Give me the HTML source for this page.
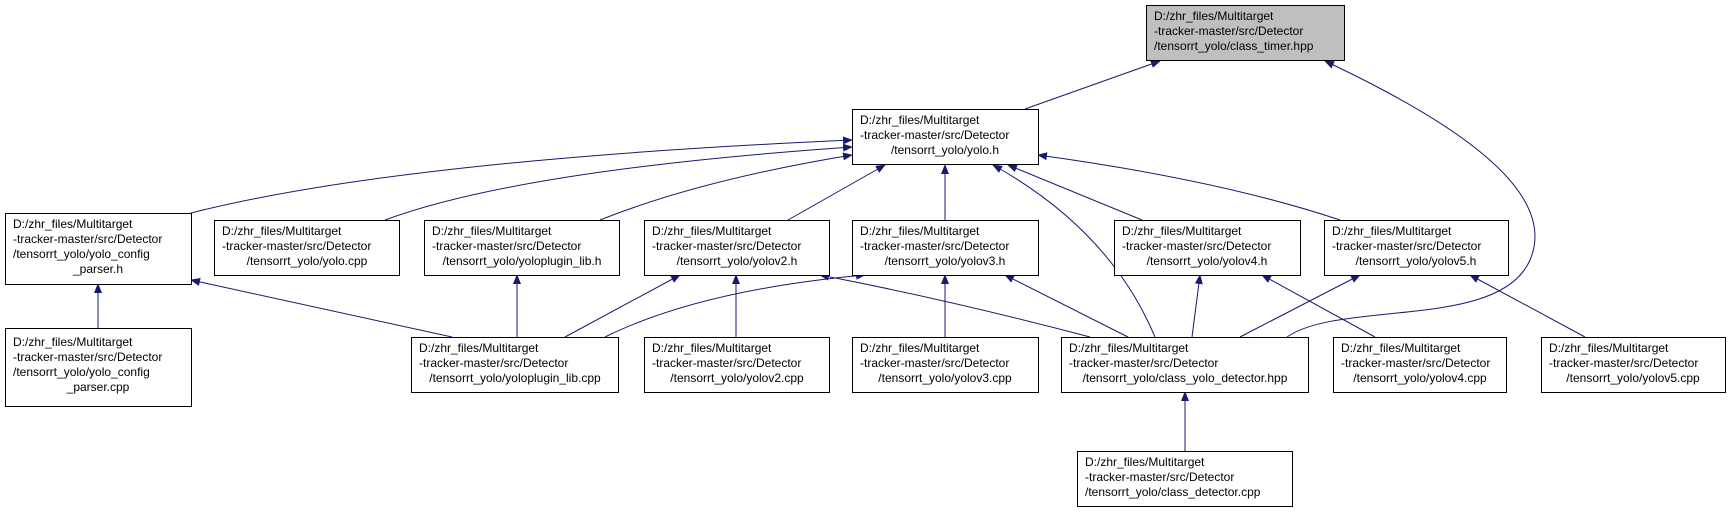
<!DOCTYPE html>
<html><head><meta charset="utf-8"><style>
html,body{margin:0;padding:0;background:#fff;}
svg{display:block;}
text{font-family:"Liberation Sans",Arial,sans-serif;font-size:12px;fill:#000;}
</style></head><body>
<svg width="1733" height="512" xmlns="http://www.w3.org/2000/svg">
<defs><marker id="a" markerWidth="10" markerHeight="8" refX="9" refY="4" orient="auto" markerUnits="userSpaceOnUse"><path d="M0,0 L10,4 L0,8 z" fill="#191970"/></marker></defs>
<g fill="none" stroke="#191970" stroke-width="1" marker-end="url(#a)">
<path d="M1025,109 L1160,61"/>
<path d="M1287,337 C1340,300 1500,330 1530,260 C1560,190 1450,120 1325,61"/>
<path d="M191,213 Q400,160 852,140"/>
<path d="M385,220 Q520,170 852,147"/>
<path d="M600,220 Q700,180 852,155"/>
<path d="M788,220 L885,165"/>
<path d="M945,220 L945,165"/>
<path d="M1155,337 Q1110,230 993,165"/>
<path d="M1142,220 L1008,165"/>
<path d="M1340,220 Q1220,180 1038,155"/>
<path d="M98,328 L98,284"/>
<path d="M452,337 L191,280"/>
<path d="M517,337 L517,275"/>
<path d="M565,337 L680,275"/>
<path d="M605,337 Q700,290 865,275"/>
<path d="M736,337 L736,275"/>
<path d="M1090,337 Q950,300 820,275"/>
<path d="M945,337 L945,275"/>
<path d="M1128,337 L1005,275"/>
<path d="M1192,337 L1200,275"/>
<path d="M1375,337 L1262,275"/>
<path d="M1240,337 L1360,275"/>
<path d="M1585,337 L1470,275"/>
<path d="M1185,451 L1185,392"/>
</g>
<g stroke="#000" stroke-width="1">
<rect x="1146.5" y="5.5" width="198" height="55" fill="#bfbfbf"/>
<rect x="852.5" y="109.5" width="186" height="55" fill="#fff"/>
<rect x="5.5" y="213.5" width="186" height="71" fill="#fff"/>
<rect x="214.5" y="220.5" width="185" height="55" fill="#fff"/>
<rect x="424.5" y="220.5" width="195" height="55" fill="#fff"/>
<rect x="644.5" y="220.5" width="185" height="55" fill="#fff"/>
<rect x="852.5" y="220.5" width="186" height="55" fill="#fff"/>
<rect x="1114.5" y="220.5" width="186" height="55" fill="#fff"/>
<rect x="1324.5" y="220.5" width="184" height="55" fill="#fff"/>
<rect x="5.5" y="328.5" width="186" height="78" fill="#fff"/>
<rect x="411.5" y="337.5" width="207" height="55" fill="#fff"/>
<rect x="644.5" y="337.5" width="185" height="55" fill="#fff"/>
<rect x="852.5" y="337.5" width="186" height="55" fill="#fff"/>
<rect x="1061.5" y="337.5" width="247" height="55" fill="#fff"/>
<rect x="1333.5" y="337.5" width="173" height="55" fill="#fff"/>
<rect x="1541.5" y="337.5" width="184" height="55" fill="#fff"/>
<rect x="1077.5" y="451.5" width="215" height="55" fill="#fff"/>
</g>
<g>
<text x="1154" y="20">D:/zhr_files/Multitarget</text><text x="1154" y="35">-tracker-master/src/Detector</text><text x="1154" y="50">/tensorrt_yolo/class_timer.hpp</text>
<text x="860" y="124">D:/zhr_files/Multitarget</text><text x="860" y="139">-tracker-master/src/Detector</text><text x="945" y="154" text-anchor="middle">/tensorrt_yolo/yolo.h</text>
<text x="13" y="228">D:/zhr_files/Multitarget</text><text x="13" y="243">-tracker-master/src/Detector</text><text x="13" y="258">/tensorrt_yolo/yolo_config</text><text x="98" y="273" text-anchor="middle">_parser.h</text>
<text x="222" y="235">D:/zhr_files/Multitarget</text><text x="222" y="250">-tracker-master/src/Detector</text><text x="307" y="265" text-anchor="middle">/tensorrt_yolo/yolo.cpp</text>
<text x="432" y="235">D:/zhr_files/Multitarget</text><text x="432" y="250">-tracker-master/src/Detector</text><text x="522" y="265" text-anchor="middle">/tensorrt_yolo/yoloplugin_lib.h</text>
<text x="652" y="235">D:/zhr_files/Multitarget</text><text x="652" y="250">-tracker-master/src/Detector</text><text x="737" y="265" text-anchor="middle">/tensorrt_yolo/yolov2.h</text>
<text x="860" y="235">D:/zhr_files/Multitarget</text><text x="860" y="250">-tracker-master/src/Detector</text><text x="945" y="265" text-anchor="middle">/tensorrt_yolo/yolov3.h</text>
<text x="1122" y="235">D:/zhr_files/Multitarget</text><text x="1122" y="250">-tracker-master/src/Detector</text><text x="1207" y="265" text-anchor="middle">/tensorrt_yolo/yolov4.h</text>
<text x="1332" y="235">D:/zhr_files/Multitarget</text><text x="1332" y="250">-tracker-master/src/Detector</text><text x="1416" y="265" text-anchor="middle">/tensorrt_yolo/yolov5.h</text>
<text x="13" y="346">D:/zhr_files/Multitarget</text><text x="13" y="361">-tracker-master/src/Detector</text><text x="13" y="376">/tensorrt_yolo/yolo_config</text><text x="98" y="391" text-anchor="middle">_parser.cpp</text>
<text x="419" y="352">D:/zhr_files/Multitarget</text><text x="419" y="367">-tracker-master/src/Detector</text><text x="515" y="382" text-anchor="middle">/tensorrt_yolo/yoloplugin_lib.cpp</text>
<text x="652" y="352">D:/zhr_files/Multitarget</text><text x="652" y="367">-tracker-master/src/Detector</text><text x="737" y="382" text-anchor="middle">/tensorrt_yolo/yolov2.cpp</text>
<text x="860" y="352">D:/zhr_files/Multitarget</text><text x="860" y="367">-tracker-master/src/Detector</text><text x="945" y="382" text-anchor="middle">/tensorrt_yolo/yolov3.cpp</text>
<text x="1069" y="352">D:/zhr_files/Multitarget</text><text x="1069" y="367">-tracker-master/src/Detector</text><text x="1185" y="382" text-anchor="middle">/tensorrt_yolo/class_yolo_detector.hpp</text>
<text x="1341" y="352">D:/zhr_files/Multitarget</text><text x="1341" y="367">-tracker-master/src/Detector</text><text x="1420" y="382" text-anchor="middle">/tensorrt_yolo/yolov4.cpp</text>
<text x="1549" y="352">D:/zhr_files/Multitarget</text><text x="1549" y="367">-tracker-master/src/Detector</text><text x="1633" y="382" text-anchor="middle">/tensorrt_yolo/yolov5.cpp</text>
<text x="1085" y="466">D:/zhr_files/Multitarget</text><text x="1085" y="481">-tracker-master/src/Detector</text><text x="1085" y="496">/tensorrt_yolo/class_detector.cpp</text>
</g>
</svg>
</body></html>
